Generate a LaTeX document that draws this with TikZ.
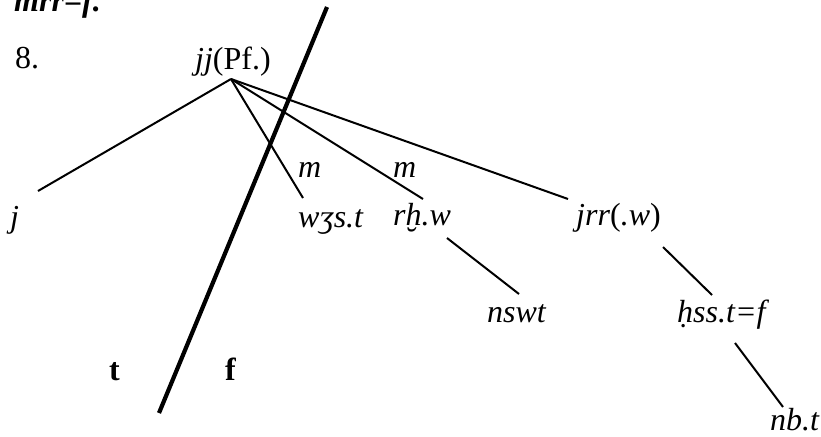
\documentclass[tikz,border=0pt]{standalone}
\usepackage{fontspec}
\setmainfont{Liberation Serif}
\tikzset{
  lab/.style={anchor=base west,inner sep=0pt,font=\fontsize{32}{38}\selectfont},
  branch/.style={line width=2pt},
  cut/.style={line width=4.2pt}
}
\begin{document}
\begin{tikzpicture}[x=1pt,y=-1pt]
\useasboundingbox (0,0) rectangle (821,436);
% labels
\node[lab,font=\fontsize{32}{38}\selectfont\bfseries\itshape] (head) at (14,12) {mrr=f.};
\node[lab] (num) at (15,68) {8.};
\node[lab] (root) at (195,70) {\textit{jj}(Pf.)};
\node[lab] (j) at (10,227) {\textit{j}};
\node[lab] (m1) at (298,177) {\textit{m}};
\node[lab] (m2) at (393,177) {\textit{m}};
\node[lab] (was) at (298,227) {\textit{wʒs.t}};
\node[lab] (rhw) at (393,225) {\textit{rḫ.w}};
\node[lab] (jrr) at (576,225) {\textit{jrr}(\textit{.w})};
\node[lab] (nswt) at (487,322) {\textit{nswt}};
\node[lab] (hss) at (677,322) {\textit{ḥss.t=f}};
\node[lab] (nbt) at (770,430) {\textit{nb.t}};
\node[lab,font=\fontsize{32}{38}\selectfont\bfseries] (tside) at (109,380) {t};
\node[lab,font=\fontsize{32}{38}\selectfont\bfseries] (fside) at (225,380) {f};
% line ends
\coordinate (foot) at (231,79);
\coordinate (j-up) at (38,191);
\coordinate (was-up) at (303,198);
\coordinate (rhw-up) at (423,199);
\coordinate (jrr-up) at (568,199);
\coordinate (rhw-dn) at (447,238);
\coordinate (nswt-up) at (519,294);
\coordinate (jrr-dn) at (663,247);
\coordinate (hss-up) at (712,295);
\coordinate (hss-dn) at (735,343);
\coordinate (nbt-up) at (783,407);
\coordinate (cut-top) at (327,7);
\coordinate (cut-bot) at (159,413);
% tree
\foreach \e in {j-up,was-up,rhw-up,jrr-up}
  \draw[branch] (foot) -- (\e);
\draw[branch] (rhw-dn) -- (nswt-up);
\draw[branch] (jrr-dn) -- (hss-up);
\draw[branch] (hss-dn) -- (nbt-up);
\draw[cut] (cut-top) -- (cut-bot);
\end{tikzpicture}
\end{document}
